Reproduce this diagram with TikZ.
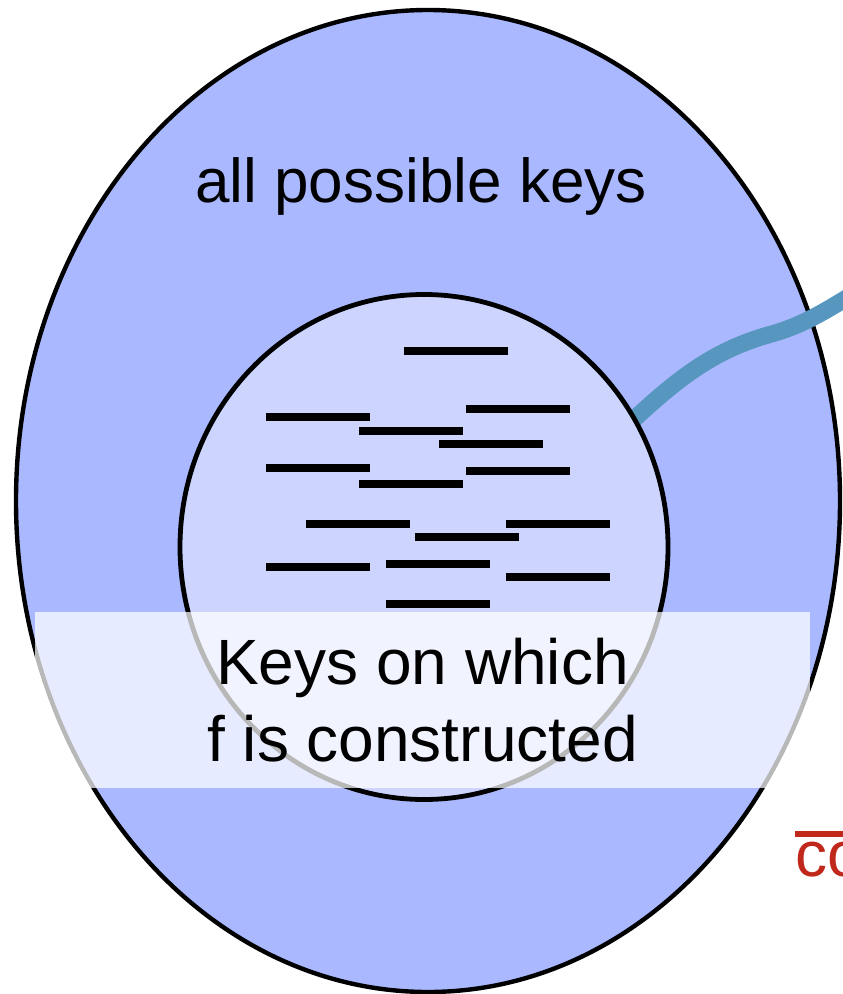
\documentclass[tikz,border=0pt]{standalone}
\usepackage{fontspec}
\setmainfont{Liberation Sans}
\usetikzlibrary{shapes.geometric}
\definecolor{Outer}{HTML}{AAB9FF}
\definecolor{Inner}{HTML}{CDD5FF}
\definecolor{Wire}{HTML}{5797BF}
\definecolor{Compl}{HTML}{C0281C}

\begin{document}
\begin{tikzpicture}[x=0.5pt, y=-0.5pt,
  set/.style={ellipse, draw=black, inner sep=0pt},
  keybar/.style={line width=3.7pt},
  txt/.style={font=\fontsize{32}{38.5}\selectfont, align=center},
  band/.style={txt, fill=white, fill opacity=0.72, text opacity=1, inner sep=0pt} ]

\useasboundingbox (0,0) rectangle (842,994);

\node[set, line width=2.2pt, fill=Outer, minimum width=412pt, minimum height=491pt] (all) at (428,501) {};
\node[txt, font=\fontsize{31}{38}\selectfont, anchor=base] (allname) at (421,203) {all possible keys};

% wire leaves the inner set, its start is hidden under the fill
\coordinate (wirein) at (600,452);
\coordinate (wireout) at (872,282);
\draw[Wire, line width=8.5pt] (wirein) .. controls (675,378) and (712,350) .. (775,333)
  .. controls (805,324) and (828,310) .. (wireout);

\node[set, line width=2.4pt, fill=Inner, minimum width=244pt, minimum height=252.5pt] (keys) at (424,547) {};

% the stored keys
\foreach \x/\y in {404/351, 466/409, 266/417, 359/431, 439/444, 266/468, 466/471, 359/484,
                   306/524, 506/524, 415/537, 266/567, 386/564, 506/577, 386/604}
  \draw[keybar] (\x,\y) -- ++(104,0);

\node[band, minimum width=387.5pt, minimum height=88pt] (note) at (422.5,700) {Keys on which\\f is constructed};

\node[txt, anchor=base west, text=Compl, inner sep=0pt] (compl) at (795,876) {\vbox{\hrule height 3pt\kern 2.5pt\hbox{co}}};

\end{tikzpicture}
\end{document}
